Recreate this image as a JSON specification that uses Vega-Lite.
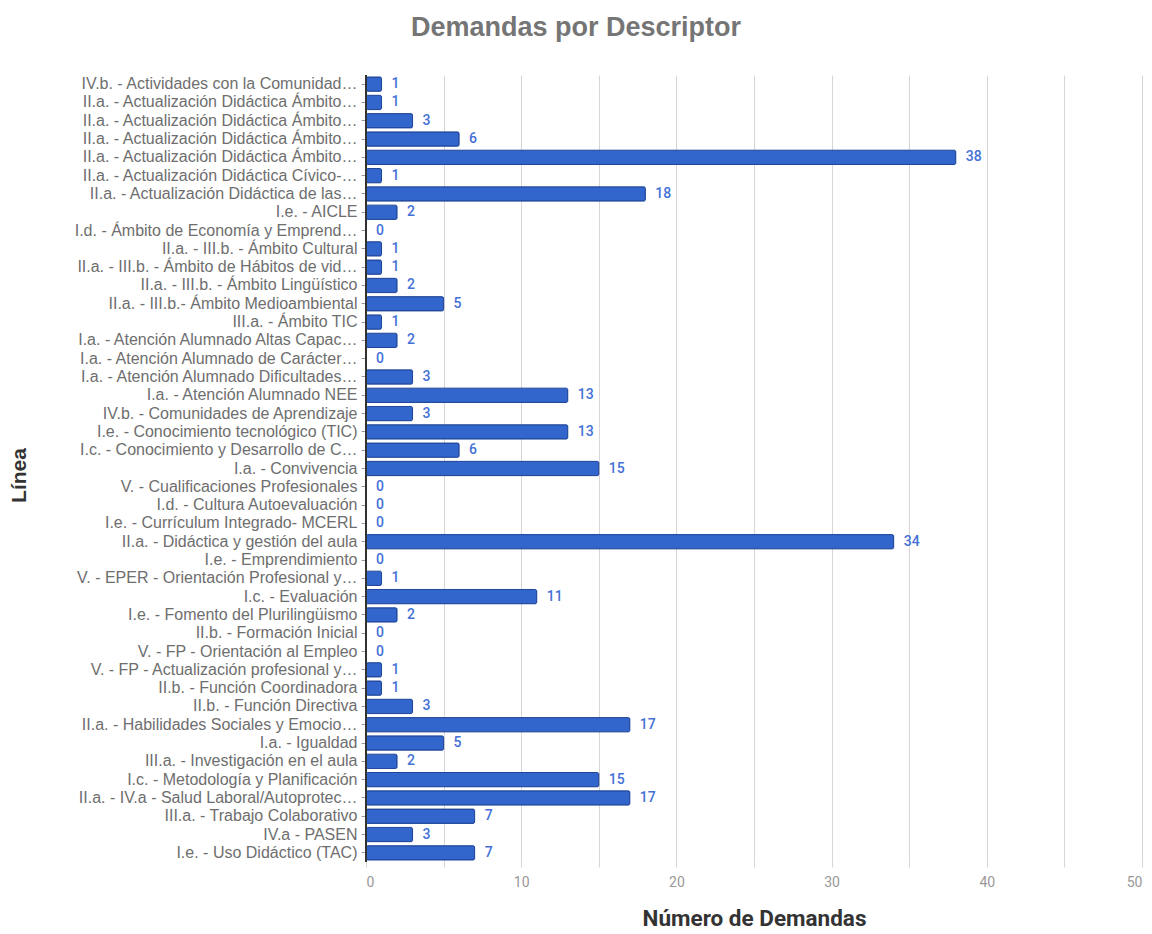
{
  "$schema": "https://vega.github.io/schema/vega-lite/v6.json",
  "width": 776,
  "height": 787,
  "autosize": "none",
  "padding": {"left": 366, "top": 75, "right": 10, "bottom": 72},
  "background": "white",
  "title": {
    "text": "Demandas por Descriptor",
    "font": "Liberation Sans",
    "fontSize": 27,
    "fontWeight": "bold",
    "color": "#757575",
    "anchor": "middle",
    "dx": -178,
    "offset": 32
  },
  "config": {
    "view": {"stroke": null},
    "font": "Roboto"
  },
  "data": {
    "values": [
      {"clave": "01|IV.b. - Actividades con la Comunidad…", "demandas": 1},
      {"clave": "02|II.a. - Actualización Didáctica Ámbito…", "demandas": 1},
      {"clave": "03|II.a. - Actualización Didáctica Ámbito…", "demandas": 3},
      {"clave": "04|II.a. - Actualización Didáctica Ámbito…", "demandas": 6},
      {"clave": "05|II.a. - Actualización Didáctica Ámbito…", "demandas": 38},
      {"clave": "06|II.a. - Actualización Didáctica Cívico-…", "demandas": 1},
      {"clave": "07|II.a. - Actualización Didáctica de las…", "demandas": 18},
      {"clave": "08|I.e. - AICLE", "demandas": 2},
      {"clave": "09|I.d. - Ámbito de Economía y Emprend…", "demandas": 0},
      {"clave": "10|II.a. - III.b. - Ámbito Cultural", "demandas": 1},
      {"clave": "11|II.a. - III.b. - Ámbito de Hábitos de vid…", "demandas": 1},
      {"clave": "12|II.a. - III.b. - Ámbito Lingüístico", "demandas": 2},
      {"clave": "13|II.a. - III.b.- Ámbito Medioambiental", "demandas": 5},
      {"clave": "14|III.a. - Ámbito TIC", "demandas": 1},
      {"clave": "15|I.a. - Atención Alumnado Altas Capac…", "demandas": 2},
      {"clave": "16|I.a. - Atención Alumnado de Carácter…", "demandas": 0},
      {"clave": "17|I.a. - Atención Alumnado Dificultades…", "demandas": 3},
      {"clave": "18|I.a. - Atención Alumnado NEE", "demandas": 13},
      {"clave": "19|IV.b. - Comunidades de Aprendizaje", "demandas": 3},
      {"clave": "20|I.e. - Conocimiento tecnológico (TIC)", "demandas": 13},
      {"clave": "21|I.c. - Conocimiento y Desarrollo de C…", "demandas": 6},
      {"clave": "22|I.a. - Convivencia", "demandas": 15},
      {"clave": "23|V. - Cualificaciones Profesionales", "demandas": 0},
      {"clave": "24|I.d. - Cultura Autoevaluación", "demandas": 0},
      {"clave": "25|I.e. - Currículum Integrado- MCERL", "demandas": 0},
      {"clave": "26|II.a. - Didáctica y gestión del aula", "demandas": 34},
      {"clave": "27|I.e. - Emprendimiento", "demandas": 0},
      {"clave": "28|V. - EPER - Orientación Profesional y…", "demandas": 1},
      {"clave": "29|I.c. - Evaluación", "demandas": 11},
      {"clave": "30|I.e. - Fomento del Plurilingüismo", "demandas": 2},
      {"clave": "31|II.b. - Formación Inicial", "demandas": 0},
      {"clave": "32|V. - FP - Orientación al Empleo", "demandas": 0},
      {"clave": "33|V. - FP - Actualización profesional y…", "demandas": 1},
      {"clave": "34|II.b. - Función Coordinadora", "demandas": 1},
      {"clave": "35|II.b. - Función Directiva", "demandas": 3},
      {"clave": "36|II.a. - Habilidades Sociales y Emocio…", "demandas": 17},
      {"clave": "37|I.a. - Igualdad", "demandas": 5},
      {"clave": "38|III.a. - Investigación en el aula", "demandas": 2},
      {"clave": "39|I.c. - Metodología y Planificación", "demandas": 15},
      {"clave": "40|II.a. - IV.a - Salud Laboral/Autoprotec…", "demandas": 17},
      {"clave": "41|III.a. - Trabajo Colaborativo", "demandas": 7},
      {"clave": "42|IV.a - PASEN", "demandas": 3},
      {"clave": "43|I.e. - Uso Didáctico (TAC)", "demandas": 7}
    ]
  },
  "encoding": {
    "y": {
      "field": "clave",
      "type": "nominal",
      "sort": "ascending",
      "scale": {"paddingInner": 0.22, "paddingOuter": 0.11},
      "axis": {
        "title": "Línea",
        "titleFont": "Liberation Sans",
        "titleFontSize": 21,
        "titleFontWeight": "bold",
        "titleColor": "#333333",
        "titleX": -337,
        "titleY": 400,
        "labelExpr": "split(datum.value, '|')[1]",
        "labelFont": "Liberation Sans",
        "labelFontSize": 16,
        "labelColor": "#6e6e6e",
        "labelLimit": 400,
        "labelPadding": 4,
        "ticks": true,
        "tickSize": 5,
        "tickColor": "#999999",
        "domain": false,
        "grid": false
      }
    },
    "x": {
      "field": "demandas",
      "type": "quantitative",
      "scale": {"domain": [0, 50], "nice": false},
      "axis": {
        "title": "Número de Demandas",
        "titleFont": "Roboto",
        "titleFontSize": 22.5,
        "titleFontWeight": "bold",
        "titleColor": "#333333",
        "titlePadding": 18,
        "values": [0, 5, 10, 15, 20, 25, 30, 35, 40, 45, 50],
        "labelExpr": "datum.value % 10 == 0 ? datum.label : ''",
        "labelFont": "Roboto",
        "labelFontSize": 14,
        "labelColor": "#999999",
        "labelPadding": 8,
        "grid": true,
        "gridColor": "#d6d6d6",
        "tickColor": "#d6d6d6",
        "tickSize": 5,
        "domain": false
      }
    }
  },
  "layer": [
    {
      "mark": {"type": "bar", "color": "#3366cc", "stroke": "#1f4598", "strokeWidth": 1, "cornerRadius": 1.5}
    },
    {
      "mark": {"type": "rule", "color": "#333333", "strokeWidth": 1.5},
      "encoding": {"x": {"datum": 0}, "y": null}
    },
    {
      "mark": {"type": "text", "align": "left", "baseline": "middle", "dx": 10, "font": "Roboto", "fontSize": 14, "fontWeight": 500, "color": "#4471d6"},
      "encoding": {"text": {"field": "demandas", "type": "quantitative"}}
    }
  ]
}
